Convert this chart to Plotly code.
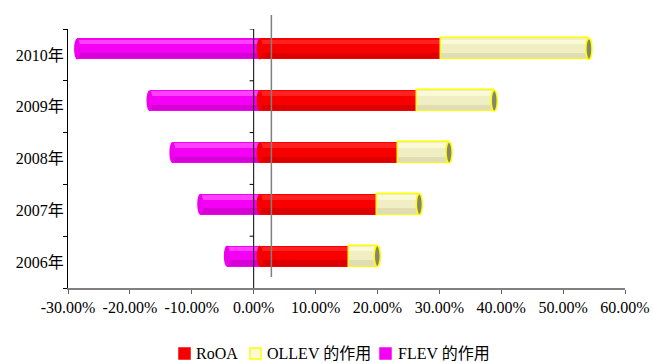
import plotly.graph_objects as go

# Leverage decomposition of return, 2006-2010 (fractions)
years = ["2006年", "2007年", "2008年", "2009年", "2010年"]
roa = [0.145, 0.189, 0.224, 0.254, 0.293]
ollev = [0.045, 0.069, 0.082, 0.125, 0.239]
flev = [-0.053, -0.096, -0.141, -0.178, -0.295]
x_ticks = [-0.3, -0.2, -0.1, 0.0, 0.1, 0.2, 0.3, 0.4, 0.5, 0.6]
x_tick_labels = ["-30.00%", "-20.00%", "-10.00%", "0.00%", "10.00%",
                 "20.00%", "30.00%", "40.00%", "50.00%", "60.00%"]
series_names = ["RoOA", "OLLEV 的作用", "FLEV 的作用"]

FONT = "'Liberation Serif', 'Times New Roman', 'Noto Sans CJK SC', serif"
BAR_W = 0.405
LIFT = 0.116          # depth offset of the cylinders (category units)
SHIFT = 0.0097        # depth offset along the value axis
OFF = -BAR_W / 2 + LIFT

W, H = 653, 363
ML, MR, MT, MB = 68, 28, 29, 75
PW, PH = W - ML - MR, H - MT - MB

fig = go.Figure()


def cylinder(name, base, length, main, light, dark, line=None):
    kw = dict(y=years, orientation="h", base=base, xaxis="x2", yaxis="y",
              showlegend=False)
    fig.add_trace(go.Bar(
        x=length, name=name, width=BAR_W, offset=OFF,
        marker=dict(color=main,
                    line=dict(color=line or main, width=1.5 if line else 0)),
        **kw))
    # top highlight and bottom shade to suggest a rounded surface
    fig.add_trace(go.Bar(x=length, width=BAR_W * 0.22, offset=OFF + BAR_W * 0.72,
                         marker=dict(color=light, line=dict(width=0)),
                         hoverinfo="skip", **kw))
    fig.add_trace(go.Bar(x=length, width=BAR_W * 0.25, offset=OFF + BAR_W * 0.05,
                         marker=dict(color=dark, line=dict(width=0)),
                         hoverinfo="skip", **kw))


cylinder(series_names[2], [0] * len(years), flev, "#f400f4", "#ff40ff", "#d600d6")
cylinder(series_names[0], [0] * len(years), roa, "#f80000", "#ff2020", "#dc0000")
cylinder(series_names[1], roa, ollev, "#f0efc4", "#fafad6", "#e0ddb2", line="#ffff00")

shapes = []
annotations = []
half = 0.0049
for i, (r, o, f) in enumerate(zip(roa, ollev, flev)):
    yc = i + LIFT
    # rounded left end of the FLEV cylinder
    shapes.append(dict(type="circle", xref="x2", yref="y", layer="above",
                       x0=f - half, x1=f + half, y0=yc - BAR_W / 2, y1=yc + BAR_W / 2,
                       fillcolor="#ee00ee", line=dict(width=0)))
    # rounded start of the RoOA cylinder
    shapes.append(dict(type="circle", xref="x2", yref="y", layer="above",
                       x0=-half, x1=half, y0=yc - BAR_W / 2, y1=yc + BAR_W / 2,
                       fillcolor="#f40000", line=dict(width=0)))
    # end cap of the stacked cylinder
    t = r + o
    shapes.append(dict(type="circle", xref="x2", yref="y", layer="above",
                       x0=t - half, x1=t + half, y0=yc - BAR_W / 2, y1=yc + BAR_W / 2,
                       fillcolor="#868670", line=dict(color="#ffff00", width=1.5)))

# back-wall reference line and the zero axis
shapes.append(dict(type="line", xref="x", yref="paper", layer="above",
                   x0=0.0286, x1=0.0286, y0=0.0425, y1=1.054,
                   line=dict(color="#808080", width=1.5)))
shapes.append(dict(type="line", xref="x", yref="paper", layer="above",
                   x0=0, x1=0, y0=0, y1=1, line=dict(color="#000000", width=1)))
for k in range(len(years)):
    yb = k + 0.5
    shapes.append(dict(type="line", xref="x", yref="y", layer="above",
                       x0=-0.0065, x1=0, y0=yb, y1=yb,
                       line=dict(color="#000000", width=1)))


# legend row under the axis (pixel positions converted to paper units)
def px_x(p):
    return (p - ML) / PW


def px_y(p):
    return (H - MB - p) / PH


legend_items = [
    (series_names[0], "#f40000", "#f40000", 179, 194),
    (series_names[1], "#fafad6", "#ffff00", 250, 265),
    (series_names[2], "#f400f4", "#f400f4", 380, 396),
]
for name, fill, edge, sx, tx in legend_items:
    shapes.append(dict(type="rect", xref="paper", yref="paper",
                       x0=px_x(sx), x1=px_x(sx + 11), y0=px_y(359), y1=px_y(348),
                       fillcolor=fill, line=dict(color=edge, width=1.5)))
    annotations.append(dict(text=name, xref="paper", yref="paper",
                            x=px_x(tx), y=px_y(353), xanchor="left", yanchor="middle",
                            showarrow=False, font=dict(family=FONT, size=16)))

fig.update_layout(
    width=W, height=H,
    margin=dict(l=ML, r=MR, t=MT, b=MB, autoexpand=False),
    paper_bgcolor="white", plot_bgcolor="white",
    barmode="overlay",
    bargap=0,
    font=dict(family=FONT, size=16, color="#000000"),
    shapes=shapes,
    annotations=annotations,
    showlegend=False,
    xaxis=dict(range=[-0.3, 0.6], tickvals=x_ticks, ticktext=x_tick_labels,
               showgrid=False, zeroline=False, showline=True,
               linecolor="#808080", linewidth=1.5,
               ticks="outside", ticklen=4, tickcolor="#606060",
               tickfont=dict(family=FONT, size=16)),
    xaxis2=dict(range=[-0.3 - SHIFT, 0.6 - SHIFT], overlaying="x", visible=False,
                showgrid=False, zeroline=False),
    yaxis=dict(type="category", categoryorder="array", categoryarray=years,
               range=[-0.5, 4.5], showgrid=False, zeroline=False,
               showline=True, linecolor="#000000", linewidth=1,
               ticks="outside", ticklen=4, tickson="boundaries", tickcolor="#000000",
               tickfont=dict(family=FONT, size=16)),
)

fig.write_html("out.html")
